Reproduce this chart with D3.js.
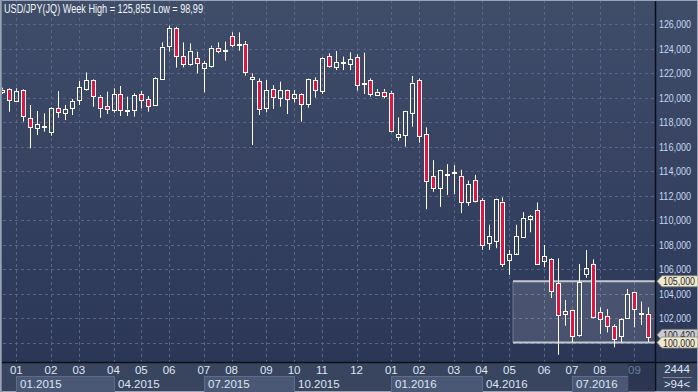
<!DOCTYPE html>
<html>
<head>
<meta charset="utf-8">
<script src="https://cdn.jsdelivr.net/npm/d3@7"></script>
<style>
  html, body { margin: 0; padding: 0; background: #2f3b58; }
  svg { display: block; }
</style>
</head>
<body>
<svg id="chart" width="698" height="392"></svg>
<script>
// weekly USD/JPY candles
const opens = [120.45,120.67,119.74,120.61,118.30,117.48,117.59,117.13,119.12,118.71,
  119.12,119.74,120.69,121.40,120.07,119.31,118.93,120.26,118.95,118.93,
  120.26,119.85,119.39,121.51,124.15,125.65,123.39,122.73,123.25,122.38,
  122.57,124.07,123.85,125.05,124.29,124.34,121.51,121.35,119.17,120.67,
  119.99,120.61,119.99,120.29,119.44,121.43,120.48,123.39,122.44,122.82,
  122.73,123.28,121.16,121.43,120.20,120.48,120.40,116.80,116.94,118.76,
  121.43,117.02,113.58,112.63,113.67,113.84,113.61,111.46,113.28,111.65,
  108.11,108.30,111.51,106.68,107.28,108.60,110.10,110.81,106.68,106.79,
  104.83,102.30,102.65,100.61,105.56,106.38,102.46,102.19,101.35,100.53,
  101.97,104.10,102.35,102.30];
const highs = [120.80,120.75,120.75,120.67,119.39,118.90,118.71,119.20,120.53,119.39,
  119.88,121.35,122.05,121.48,120.20,120.48,120.75,120.94,120.07,120.34,
  120.53,120.12,121.65,124.50,125.86,125.78,124.50,124.42,123.74,122.98,
  124.23,124.50,124.56,125.32,125.32,124.61,121.97,121.56,121.43,121.02,
  121.29,120.64,120.61,120.34,121.54,121.65,123.28,123.61,123.80,123.34,
  123.69,123.53,123.66,121.56,120.69,120.69,120.53,118.38,118.95,121.76,
  121.56,117.56,114.89,114.10,114.56,114.48,114.10,113.22,113.69,111.78,
  109.61,111.76,111.84,107.56,109.61,110.64,110.42,111.43,107.96,106.87,
  106.87,103.47,102.68,106.41,107.55,106.79,102.87,102.73,101.48,101.97,
  104.37,104.15,103.34,102.87];
const lows = [120.30,118.84,119.66,118.03,115.85,116.94,117.21,116.88,118.35,118.16,
  118.57,119.39,120.56,119.25,118.35,118.65,118.76,118.49,118.49,118.44,
  119.12,118.84,119.31,121.43,123.74,122.44,122.46,122.60,121.97,120.42,
  122.44,123.61,123.01,124.10,123.82,121.78,116.12,118.57,118.79,119.06,
  119.25,118.65,119.61,118.03,119.17,119.99,120.29,122.44,122.24,122.24,
  122.24,120.56,120.29,120.07,120.12,119.93,117.16,116.48,115.99,117.62,
  116.31,110.88,112.31,111.07,112.05,112.11,110.56,111.16,111.43,107.56,
  107.56,107.70,106.15,105.52,107.22,108.57,109.00,106.40,106.15,103.63,
  98.99,101.37,100.03,100.48,105.28,101.97,100.69,100.83,99.61,100.03,
  101.92,101.24,101.43,100.03];
const closes = [120.65,119.74,120.53,118.52,117.56,117.81,117.65,119.12,118.79,119.03,
  119.71,120.83,121.40,120.07,119.20,119.03,120.26,118.93,119.01,120.18,
  119.74,119.25,121.56,124.15,125.65,123.39,122.71,123.82,122.87,122.79,
  124.07,123.82,123.90,124.29,124.36,122.05,121.70,119.03,120.61,119.99,
  120.61,119.88,120.29,119.44,121.51,120.61,123.20,122.57,122.87,122.86,
  123.12,120.97,121.20,120.29,120.48,120.12,117.29,117.02,118.93,121.21,
  116.88,113.20,112.63,114.07,113.72,113.88,111.46,112.95,111.56,107.97,
  108.71,111.73,106.42,107.20,108.71,110.15,110.31,106.42,107.06,104.18,
  102.19,102.57,100.56,104.91,106.05,102.03,101.92,101.35,100.29,101.89,
  103.96,102.71,102.41,100.42];

const priceTicks = [100,102,104,106,108,110,112,114,116,118,120,122,124,126];
const monthIdx = [2,7,11,16,20,24,29,33,38,42,46,51,56,60,65,69,73,78,82,86,91];
const monthLabels = ["01","02","03","04","05","06","07","08","09","10","11","12",
  "01","02","03","04","05","06","07","08","09"];
const quarterLabels = ["01.2015","04.2015","07.2015","10.2015","01.2016","04.2016","07.2016"];
const quarterMonth = [0,3,6,9,12,15,18];
const zoneHigh = 105, zoneLow = 100, zoneStart = 74;

const W = 698, H = 392;
const plotR = 655, plotB = 362;
const font = "'Liberation Sans Narrow', 'Arial Narrow', 'Liberation Sans', sans-serif";

const svg = d3.select("#chart");
const defs = svg.append("defs");
const grad = defs.append("linearGradient").attr("id", "bg").attr("x1", 0).attr("y1", 0).attr("x2", 0).attr("y2", 1);
grad.append("stop").attr("offset", "0%").attr("stop-color", "#404d69");
grad.append("stop").attr("offset", "100%").attr("stop-color", "#2a3556");

const x = d3.scaleLinear().domain([0, opens.length - 1]).range([2.4, 648.3]);
const y = d3.scaleLinear().domain([98.41, 127.96]).range([plotB, 0]);
const px = v => Math.round(x(v)) + 0.5;
const fmt = v => d3.format(".3f")(v).replace(".", ",");

// backgrounds
svg.append("rect").attr("width", W).attr("height", H).attr("fill", "url(#bg)");
svg.append("rect").attr("x", 0).attr("y", plotB).attr("width", W).attr("height", H - plotB).attr("fill", "#39455f");

// grid
const grid = svg.append("g").attr("stroke", "#58658a").attr("stroke-dasharray", "3,3").attr("stroke-width", 1);
grid.selectAll("line.h").data(priceTicks).join("line")
  .attr("x1", 3).attr("x2", plotR)
  .attr("y1", d => Math.round(y(d)) + 0.5).attr("y2", d => Math.round(y(d)) + 0.5);
grid.selectAll("line.v").data(monthIdx).join("line")
  .attr("x1", d => px(d)).attr("x2", d => px(d))
  .attr("y1", 0).attr("y2", plotB);

// shaded zone
const zx = Math.round(x(zoneStart)) - 3;
svg.append("rect").attr("x", zx).attr("y", y(zoneHigh)).attr("width", plotR - zx)
  .attr("height", y(zoneLow) - y(zoneHigh)).attr("fill", "#ffffff").attr("fill-opacity", 0.13);
svg.append("line").attr("x1", zx).attr("x2", zx).attr("y1", y(zoneHigh)).attr("y2", y(zoneLow))
  .attr("stroke", "#6e7a94").attr("stroke-width", 1);
[zoneHigh, zoneLow].forEach(v => {
  svg.append("line").attr("x1", zx).attr("x2", plotR).attr("y1", y(v)).attr("y2", y(v))
    .attr("stroke", "#c4c8d0").attr("stroke-width", 2);
});

// candles
const data = opens.map((o, i) => ({ i, o, h: highs[i], l: lows[i], c: closes[i] }));
const cg = svg.append("g").selectAll("g").data(data).join("g");
cg.append("line")
  .attr("x1", d => px(d.i)).attr("x2", d => px(d.i))
  .attr("y1", d => y(d.h)).attr("y2", d => y(Math.max(d.o, d.c)))
  .attr("stroke", "#fff");
cg.append("line")
  .attr("x1", d => px(d.i)).attr("x2", d => px(d.i))
  .attr("y1", d => y(Math.min(d.o, d.c))).attr("y2", d => y(d.l))
  .attr("stroke", "#fff");
cg.append("rect")
  .attr("x", d => px(d.i) - 2)
  .attr("width", 4)
  .attr("y", d => Math.round(y(Math.max(d.o, d.c))) + 0.5)
  .attr("height", d => Math.max(1, Math.round(y(Math.min(d.o, d.c)) - y(Math.max(d.o, d.c)))))
  .attr("fill", d => d.c < d.o ? "#e0163e" : "none")
  .attr("stroke", "#fff").attr("stroke-width", 1);

// frame lines
svg.append("line").attr("x1", plotR + 0.5).attr("x2", plotR + 0.5).attr("y1", 0).attr("y2", H)
  .attr("stroke", "#0b0f18").attr("stroke-width", 1.5);
svg.append("line").attr("x1", 0).attr("x2", W).attr("y1", plotB + 0.5).attr("y2", plotB + 0.5)
  .attr("stroke", "#0b0f18").attr("stroke-width", 1.5);
svg.append("rect").attr("x", 0.5).attr("y", 0.5).attr("width", W - 1).attr("height", H - 1)
  .attr("fill", "none").attr("stroke", "#9aa3b6").attr("stroke-width", 1);
svg.append("line").attr("x1", 1.5).attr("x2", 1.5).attr("y1", 0).attr("y2", H)
  .attr("stroke", "#7d879c").attr("stroke-width", 1);

// right axis
const ra = svg.append("g").attr("font-family", font).attr("font-size", 11).attr("fill", "#c6d8f2");
ra.selectAll("text").data(priceTicks).join("text")
  .attr("x", 659).attr("y", d => y(d) + 4)
  .attr("textLength", 32).attr("lengthAdjust", "spacingAndGlyphs")
  .text(d => fmt(d));

// price markers
function marker(v, fill, dy) {
  const yy = y(v) + (dy || 0);
  const g = svg.append("g");
  g.append("path")
    .attr("d", `M${plotR + 2},${yy} L${plotR + 7},${yy - 5.5} L${W},${yy - 5.5} L${W},${yy + 5.5} L${plotR + 7},${yy + 5.5} Z`)
    .attr("fill", fill).attr("stroke", "#8a8a80").attr("stroke-width", 0.8);
  g.append("text").attr("x", plotR + 8).attr("y", yy + 4)
    .attr("font-family", font).attr("font-size", 11).attr("fill", "#2c2c2c")
    .attr("textLength", 32).attr("lengthAdjust", "spacingAndGlyphs")
    .text(fmt(v));
}
marker(closes[closes.length - 1], "#c9cbd0", -2.5);
marker(zoneHigh, "#efe9cf");
marker(zoneLow, "#efe9cf");

// bottom axis
const qx = quarterMonth.map(m => Math.round(x(monthIdx[m])));
const curX = Math.round(x(monthIdx[monthIdx.length - 1])) - 6;
quarterLabels.forEach((q, k) => {
  const x0 = qx[k], x1 = k < qx.length - 1 ? qx[k + 1] : curX;
  if (k % 2 === 0) {
    svg.append("rect").attr("x", x0 + 0.5).attr("y", 376.5).attr("width", x1 - x0).attr("height", 16)
      .attr("fill", "#4b5875").attr("stroke", "#5f6c88");
  }
});
svg.append("rect").attr("x", curX).attr("y", plotB + 1.5).attr("width", plotR - curX).attr("height", H - plotB - 2)
  .attr("fill", "#28324b").attr("fill-opacity", 0.75);

const ba = svg.append("g").attr("font-family", font).attr("font-size", 11.5).attr("fill", "#dde6f4");
ba.selectAll("text.m").data(monthIdx).join("text")
  .attr("x", d => x(d)).attr("y", 374).attr("text-anchor", "middle")
  .attr("fill", (d, k) => k === monthIdx.length - 1 ? "#6d7c9c" : "#dde6f4")
  .text((d, k) => monthLabels[k]);
ba.selectAll("text.q").data(quarterLabels).join("text")
  .attr("x", (d, k) => qx[k] + 4).attr("y", 388).text(d => d);

// corner box
const cb = svg.append("g").attr("font-family", font).attr("font-size", 11.5).attr("fill", "#dde6f4").attr("text-anchor", "middle");
cb.append("text").attr("x", 677).attr("y", 373).text("2444");
cb.append("line").attr("x1", 663).attr("x2", 692).attr("y1", 377.5).attr("y2", 377.5).attr("stroke", "#7d879c");
cb.append("text").attr("x", 677).attr("y", 388).text(">" + opens.length + "<");

// title
svg.append("text").attr("x", 4).attr("y", 13)
  .attr("font-family", font).attr("font-size", 12.5).attr("fill", "#f2f5fa")
  .attr("textLength", 199).attr("lengthAdjust", "spacingAndGlyphs")
  .text("USD/JPY(JQ) Week High = 125,855 Low = 98,99");
</script>
</body>
</html>
